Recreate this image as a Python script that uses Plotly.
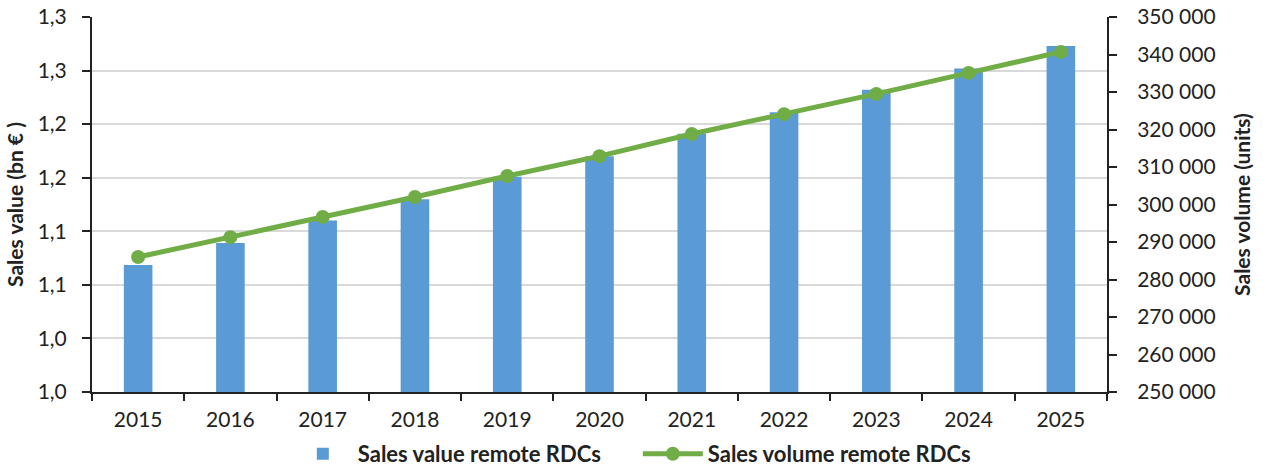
import plotly.graph_objects as go

years = ["2015", "2016", "2017", "2018", "2019", "2020", "2021", "2022", "2023", "2024", "2025"]
sales_value = [1.1185, 1.139, 1.160, 1.180, 1.201, 1.220, 1.241, 1.261, 1.282, 1.302, 1.323]
sales_volume = [286000, 291300, 296700, 302000, 307600, 312900, 318800, 324100, 329500, 335100, 340700]
left_tickvals = [1.00, 1.05, 1.10, 1.15, 1.20, 1.25, 1.30, 1.35]
left_ticktext = ["1,0", "1,0", "1,1", "1,1", "1,2", "1,2", "1,3", "1,3"]

FONT = "Lato, 'Open Sans', sans-serif"
FS = 21

fig = go.Figure()
fig.add_trace(go.Bar(
    x=years, y=sales_value, name="Sales value remote RDCs",
    marker=dict(color="#5B9BD5", line=dict(width=0)), width=0.31, yaxis="y",
))
fig.add_trace(go.Scatter(
    x=years, y=sales_volume, name="Sales volume remote RDCs",
    mode="lines+markers", line=dict(color="#70AD47", width=5),
    marker=dict(color="#70AD47", size=14), yaxis="y2",
))

fig.update_layout(
    width=1263, height=475,
    margin=dict(l=92, r=156, t=17, b=83),
    plot_bgcolor="white", paper_bgcolor="white",
    font=dict(family=FONT, size=FS, color="#222222"),
    separators=", ",
    showlegend=True,
    legend=dict(orientation="h", xref="container", yref="container",
                x=0.505, xanchor="center", y=0.0, yanchor="bottom",
                font=dict(size=22, color="#222222", family=FONT, weight="bold"),
                itemwidth=60, entrywidth=275, entrywidthmode="pixels",
                traceorder="normal", tracegroupgap=0),
    xaxis=dict(
        type="category", range=[-0.5, 10.5],
        showline=True, linecolor="#222222", linewidth=2,
        ticks="outside", tickson="boundaries", ticklen=7, tickcolor="#222222", tickwidth=2,
        showgrid=False, tickfont=dict(size=FS), automargin=False, ticklabelstandoff=8,
    ),
    yaxis=dict(
        range=[1.0, 1.35], tickvals=left_tickvals, ticktext=left_ticktext,
        showline=True, linecolor="#222222", linewidth=2,
        ticks="outside", ticklen=8, tickcolor="#222222", tickwidth=2,
        showgrid=True, gridcolor="#D9D9D9", gridwidth=1.5, zeroline=False,
        title=dict(text="Sales value (bn € )", font=dict(size=FS, weight="bold"), standoff=8),
        tickfont=dict(size=FS), automargin=False, ticklabelstandoff=11,
        ticklabeloverflow="allow",
    ),
    yaxis2=dict(
        range=[250000, 350000], dtick=10000, overlaying="y", side="right",
        tickformat=",d",
        showline=True, linecolor="#222222", linewidth=2,
        ticks="outside", ticklen=8, tickcolor="#222222", tickwidth=2,
        showgrid=False, zeroline=False,
        title=dict(text="Sales volume (units)", font=dict(size=FS, weight="bold"), standoff=21),
        tickfont=dict(size=FS), automargin=False, ticklabelstandoff=16,
        ticklabeloverflow="allow",
    ),
)

# remove the browser's default 8px body margin so the figure sits at the page's top-left corner
fig.write_html("out.html", config={"displayModeBar": False},
               post_script="document.body.style.margin='0';")
